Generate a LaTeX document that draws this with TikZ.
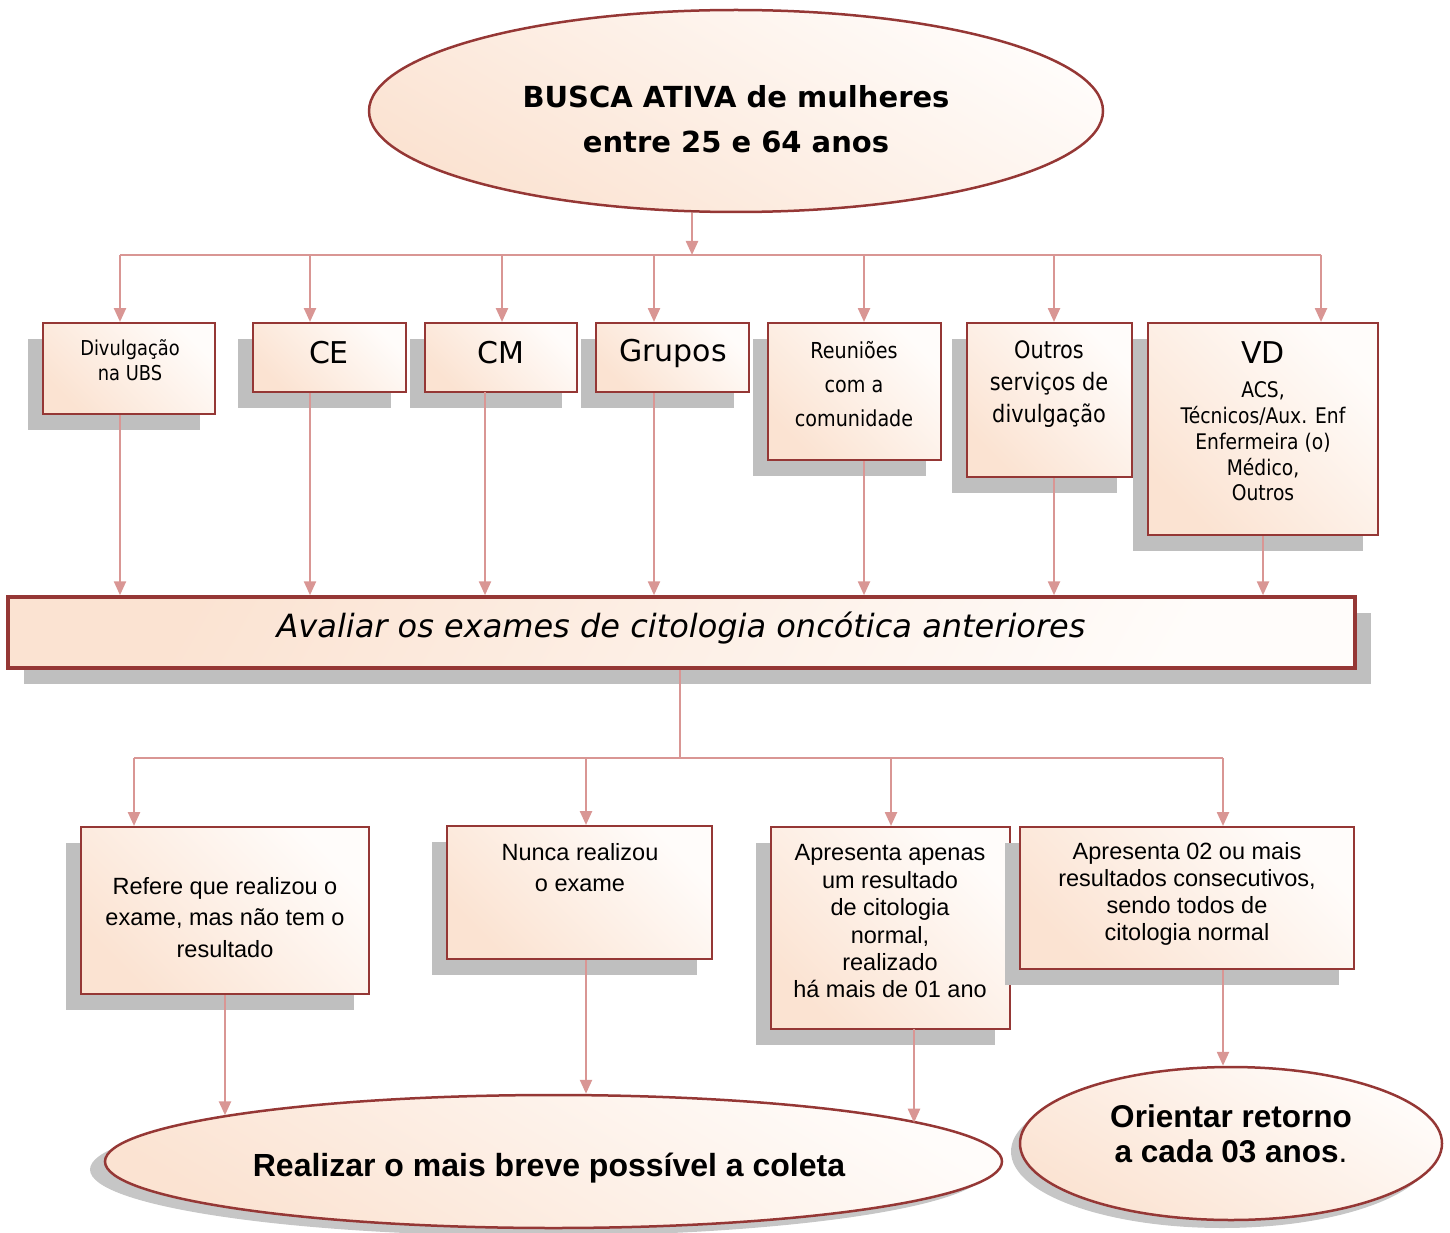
\documentclass[tikz,border=0pt]{standalone}
\usepackage{fontspec}
\usetikzlibrary{arrows.meta,shapes.geometric,shadows}
\newfontfamily\tahr[FakeStretch=0.87]{DejaVu Sans}
\newfontfamily\verd{DejaVu Sans}
\newfontfamily\ari{Liberation Sans}
\definecolor{bord}{HTML}{953735}
\definecolor{conn}{HTML}{D99694}
\definecolor{shad}{HTML}{BFBFBF}
\definecolor{peach}{HTML}{FBE3D2}
\definecolor{pale}{HTML}{FFFCFA}
\begin{document}
\begin{tikzpicture}[x=1pt,y=-1pt,
  box/.style={rectangle, draw=bord, line width=2pt, top color=pale, bottom color=peach, shading angle=-45, inner sep=0,
    drop shadow={shadow xshift=-15pt, shadow yshift=-16pt, fill=shad, opacity=1}},
  oval/.style={ellipse, draw=bord, line width=2.5pt, top color=pale, bottom color=peach, shading angle=-30, inner sep=0},
  cline/.style={draw=conn, line width=2.4pt},
  arr/.style={cline, -{Triangle[length=14pt,width=12pt]}},
  txt/.style={align=center, inner sep=0, text=black},
]
\useasboundingbox (0,0) rectangle (1450,1233);

% ---------- top ellipse
\node[oval, minimum width=734, minimum height=202] (top) at (736,111) {};
\node[txt, font=\verd\bfseries\fontsize{29}{45}\selectfont] (toptxt) at (736,119.5) {BUSCA ATIVA de mulheres\\entre 25 e 64 anos};

% ---------- first row boxes
\node[box, minimum width=172, minimum height=91]  (ubs) at (129,368.5) {};
\node[box, minimum width=153, minimum height=69]  (ce)  at (329.5,357.5) {};
\node[box, minimum width=152, minimum height=69]  (cm)  at (501,357.5) {};
\node[box, minimum width=153, minimum height=69]  (grp) at (672.5,357.5) {};
\node[box, minimum width=173, minimum height=137] (reu) at (854.5,391.5) {};
\node[box, minimum width=165, minimum height=154] (out) at (1049.5,400) {};
\node[box, minimum width=230, minimum height=212] (vd)  at (1263,429) {};

\node[txt, font=\tahr\fontsize{20.5}{25}\selectfont] (ubst) at (130,360.5) {Divulgação\\na UBS};
\node[txt, font=\verd\fontsize{30}{36}\selectfont] (cet) at (329,353) {CE};
\node[txt, font=\verd\fontsize{30}{36}\selectfont] (cmt) at (501,353) {CM};
\node[txt, font=\verd\fontsize{30}{36}\selectfont] (grpt) at (673,353) {Grupos};
\node[txt, font=\tahr\fontsize{22}{34}\selectfont] (reut) at (854,384) {Reuniões\\com a\\comunidade};
\node[txt, font=\tahr\fontsize{24}{32}\selectfont] (outt) at (1049,384) {Outros\\serviços de\\divulgação};
\node[txt, font=\verd\fontsize{30}{36}\selectfont] (vdt) at (1263,353) {VD};
\node[txt, font=\tahr\fontsize{21.5}{25.8}\selectfont] (vds) at (1263,441.5) {ACS,\\Técnicos/Aux. Enf\\Enfermeira (o)\\Médico,\\Outros};

% ---------- main box
\node[rectangle, draw=bord, line width=3.5pt, left color=peach, right color=pale, shading angle=60, inner sep=0,
  drop shadow={shadow xshift=16pt, shadow yshift=-16pt, fill=shad, opacity=1},
  minimum width=1347, minimum height=71] (main) at (681.5,632.5) {};
\node[txt, font=\verd\itshape\fontsize{32}{38}\selectfont] (maint) at (681,628) {Avaliar os exames de citologia oncótica anteriores};

% ---------- second row boxes
\node[box, minimum width=288, minimum height=167] (ref) at (225,910.5) {};
\node[box, minimum width=265, minimum height=133] (nun) at (579.5,892.5) {};
\node[box, minimum width=239, minimum height=202] (apa) at (890.5,928) {};
\node[box, minimum width=334, minimum height=142] (ap2) at (1187,898) {};

\node[txt, font=\ari\fontsize{23.5}{31.5}\selectfont] (reft) at (225,917.5) {Refere que realizou o\\exame, mas não tem o\\resultado};
\node[txt, font=\ari\fontsize{23.5}{31}\selectfont] (nunt) at (580,867.5) {Nunca realizou\\o exame};
\node[txt, font=\ari\fontsize{23.5}{27.4}\selectfont] (apat) at (890,921.5) {Apresenta apenas\\um resultado\\de citologia\\normal,\\realizado\\há mais de 01 ano};
\node[txt, font=\ari\fontsize{23.5}{27}\selectfont] (ap2t) at (1187,893.5) {Apresenta 02 ou mais\\resultados consecutivos,\\sendo todos de\\citologia normal};

% ---------- bottom ellipses
\node[oval, minimum width=897, minimum height=133,
  drop shadow={shadow xshift=-15pt, shadow yshift=-8pt, fill=gray, opacity=0.45}] (ell) at (553.5,1161.5) {};
\node[oval, minimum width=422, minimum height=153,
  drop shadow={shadow xshift=-9pt, shadow yshift=-8pt, fill=gray, opacity=0.45}] (rell) at (1231,1143.5) {};
\node[txt, font=\ari\bfseries\fontsize{32}{36}\selectfont] (ellt) at (549,1168) {Realizar o mais breve possível a coleta};
\node[txt, font=\ari\bfseries\fontsize{31.5}{35}\selectfont] (rellt) at (1231,1133.5) {Orientar retorno\\a cada 03 anos{\mdseries .}};

% ---------- connectors: top
\coordinate (bus) at (692,255);
\coordinate (t1) at (120,255);
\coordinate (t2) at (310,255);
\coordinate (t3) at (502,255);
\coordinate (t4) at (654,255);
\coordinate (t5) at (864,255);
\coordinate (t6) at (1054,255);
\coordinate (t7) at (1321,255);
\draw[arr] (top.south -| bus) -- (bus);
\draw[cline] (t1) -- (t7);
\draw[arr] (t1) -- (t1 |- ubs.north);
\draw[arr] (t2) -- (t2 |- ce.north);
\draw[arr] (t3) -- (t3 |- cm.north);
\draw[arr] (t4) -- (t4 |- grp.north);
\draw[arr] (t5) -- (t5 |- reu.north);
\draw[arr] (t6) -- (t6 |- out.north);
\draw[arr] (t7) -- (t7 |- vd.north);

% boxes to main
\coordinate (u1) at (ubs.south -| t1);
\coordinate (u2) at (ce.south -| t2);
\coordinate (u3) at (485,392);
\coordinate (u4) at (grp.south -| t4);
\coordinate (u5) at (reu.south -| t5);
\coordinate (u6) at (out.south -| t6);
\coordinate (u7) at (vd.south);
\foreach \u in {u1,u2,u3,u4,u5,u6,u7}
  \draw[arr] (\u) -- (\u |- main.north);

% main to second row
\coordinate (m) at (680,758);
\coordinate (b1) at (134,758);
\coordinate (b2) at (586,758);
\coordinate (b3) at (891,758);
\coordinate (b4) at (1223,758);
\draw[cline] (main.south -| m) -- (m);
\draw[cline] (b1) -- (b4);
\draw[arr] (b1) -- (b1 |- ref.north);
\draw[arr] (b2) -- (b2 |- nun.north);
\draw[arr] (b3) -- (b3 |- apa.north);
\draw[arr] (b4) -- (b4 |- ap2.north);

% second row to results
\coordinate (d2) at (nun.south -| b2);
\coordinate (d3) at (914,1029);
\coordinate (d4) at (ap2.south -| b4);
\draw[arr] (ref.south) -- (ref.south |- ell.172.15);
\draw[arr] (d2) -- (d2 |- ell.north);
\draw[arr] (d3) -- (d3 |- ell.6.27);
\draw[arr] (d4) -- (d4 |- rell.north);
\end{tikzpicture}
\end{document}
